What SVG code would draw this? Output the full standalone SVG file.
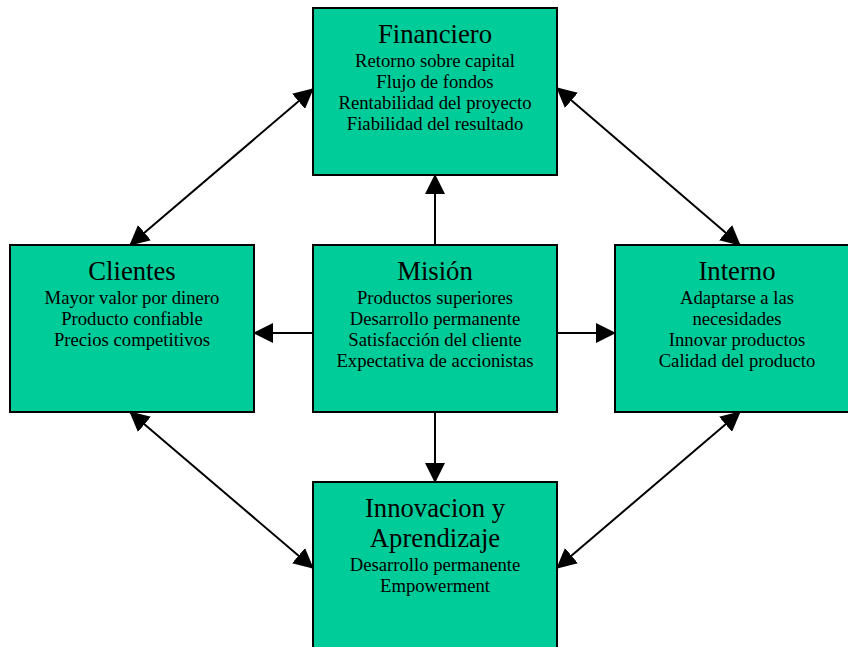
<svg xmlns="http://www.w3.org/2000/svg" width="848" height="647" viewBox="0 0 848 647">
<style>
.box{fill:#00CC99;stroke:#000;stroke-width:2}
.t{font-family:"Liberation Serif","Times New Roman",serif;fill:#000;text-anchor:middle}
.h{font-size:26.7px}
.s{font-size:18.7px}
.c{stroke:#000;stroke-width:2;fill:none}
</style>
<defs>
<marker id="ah" viewBox="0 0 20 20" refX="19" refY="10" markerWidth="20" markerHeight="20" markerUnits="userSpaceOnUse" orient="auto-start-reverse">
<path d="M0,0 L20,10 L0,20 z" fill="#000"/>
</marker>
</defs>
<rect width="848" height="647" fill="#fff"/>
<g id="connectors">
<line class="c" x1="130" y1="245" x2="313" y2="89" marker-start="url(#ah)" marker-end="url(#ah)"/>
<line class="c" x1="557" y1="88" x2="740" y2="245" marker-start="url(#ah)" marker-end="url(#ah)"/>
<line class="c" x1="130" y1="412" x2="313" y2="568" marker-start="url(#ah)" marker-end="url(#ah)"/>
<line class="c" x1="740" y1="412" x2="557" y2="568" marker-start="url(#ah)" marker-end="url(#ah)"/>
<line class="c" x1="435" y1="245" x2="435" y2="175" marker-end="url(#ah)"/>
<line class="c" x1="435" y1="412" x2="435" y2="482" marker-end="url(#ah)"/>
<line class="c" x1="313" y1="333" x2="254" y2="333" marker-end="url(#ah)"/>
<line class="c" x1="557" y1="333" x2="615" y2="333" marker-end="url(#ah)"/>
</g>
<g id="financiero">
<rect class="box" x="313" y="8" width="244" height="167"/>
<text class="t h" x="435" y="43">Financiero</text>
<text class="t s" x="435" y="67">Retorno sobre capital</text>
<text class="t s" x="435" y="88">Flujo de fondos</text>
<text class="t s" x="435" y="109">Rentabilidad del proyecto</text>
<text class="t s" x="435" y="130">Fiabilidad del resultado</text>
</g>
<g id="clientes">
<rect class="box" x="10" y="245" width="244" height="167"/>
<text class="t h" x="132" y="280">Clientes</text>
<text class="t s" x="132" y="304">Mayor valor por dinero</text>
<text class="t s" x="132" y="325">Producto confiable</text>
<text class="t s" x="132" y="346">Precios competitivos</text>
</g>
<g id="mision">
<rect class="box" x="313" y="245" width="244" height="167"/>
<text class="t h" x="435" y="280">Misión</text>
<text class="t s" x="435" y="304">Productos superiores</text>
<text class="t s" x="435" y="325">Desarrollo permanente</text>
<text class="t s" x="435" y="346">Satisfacción del cliente</text>
<text class="t s" x="435" y="367">Expectativa de accionistas</text>
</g>
<g id="interno">
<rect class="box" x="615" y="245" width="244" height="167"/>
<text class="t h" x="737" y="280">Interno</text>
<text class="t s" x="737" y="304">Adaptarse a las</text>
<text class="t s" x="737" y="325">necesidades</text>
<text class="t s" x="737" y="346">Innovar productos</text>
<text class="t s" x="737" y="367">Calidad del producto</text>
</g>
<g id="innovacion">
<rect class="box" x="313" y="482" width="244" height="167"/>
<text class="t h" x="435" y="517">Innovacion y</text>
<text class="t h" x="435" y="547">Aprendizaje</text>
<text class="t s" x="435" y="571">Desarrollo permanente</text>
<text class="t s" x="435" y="592">Empowerment</text>
</g>
</svg>
